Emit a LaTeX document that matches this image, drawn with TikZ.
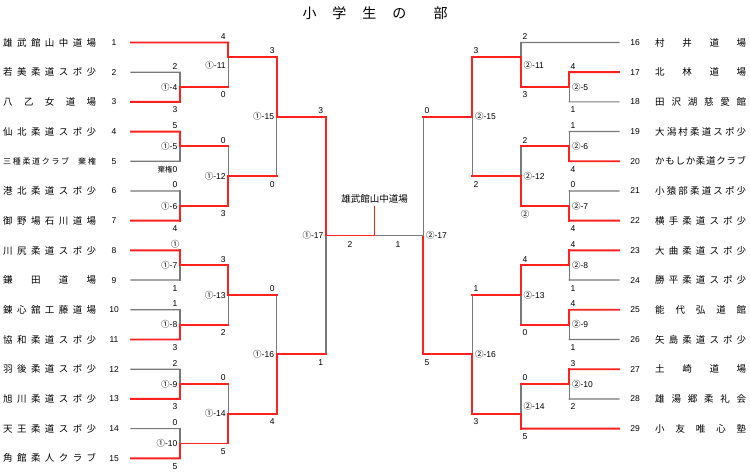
\documentclass[tikz,border=0pt]{standalone}
\usepackage{fontspec}
\setmainfont{Liberation Sans}
\newfontfamily\cjk{Noto Sans CJK JP}
\definecolor{wred}{RGB}{255,32,32}
\definecolor{lgray}{RGB}{120,120,120}
\makeatletter
\newcommand\spr[2]{\makebox[#1][s]{\expandafter\spr@a#2\relax}}
\def\spr@a#1#2{#1\ifx\relax#2\else\hfill\expandafter\spr@a\expandafter#2\fi}
\makeatother
\newcommand\maruI{{\cjk ①}}
\newcommand\maruII{{\cjk ②}}
\newcommand\match[6]{%
 \coordinate (#1t) at (#2,#3);
 \coordinate (#1b) at (#2,#4);
 \coordinate (#1o) at (#2,#5);
 \if#6t\draw[lose] (#1b)--(#1o);\draw[win] (#1t)--(#1o);%
 \else\draw[lose] (#1t)--(#1o);\draw[win] (#1b)--(#1o);\fi}
\tikzset{
 win/.style={draw=wred, line width=1.9bp, line cap=rect},
 lose/.style={draw=lgray, line width=1.2bp, line cap=rect},
 nm/.style={anchor=west, inner sep=0pt, font=\cjk\fontsize{9.5bp}{10bp}\selectfont},
 num/.style={inner sep=0pt, font=\fontsize{8.5bp}{10bp}\selectfont},
 sc/.style={inner sep=0pt, font=\fontsize{8.5bp}{10bp}\selectfont},
 mlL/.style={anchor=east, inner sep=0pt, font=\fontsize{8.5bp}{10bp}\selectfont},
 mlR/.style={anchor=west, inner sep=0pt, font=\fontsize{8.5bp}{10bp}\selectfont},
}
\begin{document}
\begin{tikzpicture}[x=1bp,y=-1bp]
\useasboundingbox (0,0) rectangle (750,474);
\node[inner sep=0pt, font=\cjk\fontsize{14bp}{15bp}\selectfont] (title) at (375,13.5)
 {小\hspace{16bp}学\hspace{16bp}生\hspace{16bp}の\hspace{27bp}部};

% entry coordinates
\foreach \n in {1,...,15} \coordinate (e\n) at (131,{42.5+(\n-1)*29.7});
\foreach \n in {16,...,29} \coordinate (e\n) at (619,{42.5+(\n-16)*29.7});

% left names
\foreach \n/\t in {1/雄武館山中道場,2/若美柔道スポ少,3/八乙女道場,4/仙北柔道スポ少,
 6/港北柔道スポ少,7/御野場石川道場,8/川尻柔道スポ少,9/鎌田道場,10/錬心舘工藤道場,
 11/協和柔道スポ少,12/羽後柔道スポ少,13/旭川柔道スポ少,14/天王柔道スポ少,15/角館柔人クラブ}
 \node[nm] (n\n) at (3,{42.5+(\n-1)*29.7}) {\spr{93bp}{\t}};
\node[nm, font=\cjk\fontsize{8bp}{9bp}\selectfont] (n5) at (3,161.3)
 {\makebox[93bp][s]{\spr{66bp}{三種柔道クラブ}\hfill\spr{18bp}{棄権}}};
% right names
\foreach \n/\t in {16/村井道場,17/北林道場,18/田沢湖慈愛館,19/大潟村柔道スポ少,
 20/かもしか柔道クラブ,21/小猿部柔道スポ少,22/横手柔道スポ少,23/大曲柔道スポ少,
 24/勝平柔道スポ少,25/能代弘道館,26/矢島柔道スポ少,27/土崎道場,28/雄湯郷柔礼会,29/小友唯心塾}
 \node[nm] (n\n) at (655,{42.5+(\n-16)*29.7}) {\spr{91bp}{\t}};
% numbers
\foreach \n in {1,...,15} \node[num] (k\n) at (114,{42.5+(\n-1)*29.7}) {\n};
\foreach \n in {16,...,29} \node[num] (k\n) at (635,{42.5+(\n-16)*29.7}) {\n};

% left matches
\match{A4}{180}{72.2}{101.9}{87.05}{b}
\match{A5}{180}{131.6}{161.3}{146.45}{t}
\match{A6}{180}{191.0}{220.7}{205.85}{b}
\match{A7}{180}{250.4}{280.1}{265.25}{t}
\match{A8}{180}{309.8}{339.5}{324.65}{b}
\match{A9}{180}{369.2}{398.9}{384.05}{b}
\match{A10}{180}{428.6}{458.3}{443.45}{b}
\match{A11}{228.3}{42.5}{87.05}{57}{t}
\match{A12}{228.3}{146.45}{205.85}{176.15}{b}
\match{A13}{228.3}{265.25}{324.65}{294.95}{t}
\match{A14}{228.3}{384.05}{443.45}{413.75}{b}
\match{A15}{276.7}{57}{176.15}{116.6}{t}
\match{A16}{276.7}{294.95}{413.75}{354.35}{b}
\match{A17}{326}{116.6}{354.35}{235.5}{t}
% right matches
\match{B5}{569.3}{72.2}{101.9}{87.05}{t}
\match{B6}{569.3}{131.6}{161.3}{146.45}{b}
\match{B7}{569.3}{191.0}{220.7}{205.85}{b}
\match{B8}{569.3}{250.4}{280.1}{265.25}{t}
\match{B9}{569.3}{309.8}{339.5}{324.65}{t}
\match{B10}{569.3}{369.2}{398.9}{384.05}{t}
\match{B11}{521}{42.5}{87.05}{57}{b}
\match{B12}{521}{146.45}{205.85}{176.15}{b}
\match{B13}{521}{265.25}{324.65}{294.95}{t}
\match{B14}{521}{384.05}{428.6}{413.75}{b}
\match{B15}{472.3}{57}{176.15}{116.6}{t}
\match{B16}{472.3}{294.95}{413.75}{354.35}{b}
\match{B17}{423.3}{116.6}{354.35}{235.5}{b}

% losing entry lines
\draw[lose] (e2)--(A4t) (e5)--(A5b) (e6)--(A6t) (e9)--(A7b) (e10)--(A8t) (e12)--(A9t) (e14)--(A10t);
\draw[lose] (e16)--(B11t) (e18)--(B5b) (e19)--(B6t) (e21)--(B7t) (e24)--(B8b) (e26)--(B9b) (e28)--(B10b);
% winning lines
\draw[win] (e1)--(A11t) (e3)--(A4b) (e4)--(A5t) (e7)--(A6b) (e8)--(A7t) (e11)--(A8b) (e13)--(A9b) (e15)--(A10b);
\draw[win] (A4o)--(A11b) (A5o)--(A12t) (A6o)--(A12b) (A7o)--(A13t) (A8o)--(A13b) (A9o)--(A14t) (A10o)--(A14b);
\draw[win] (A11o)--(A15t) (A12o)--(A15b) (A13o)--(A16t) (A14o)--(A16b);
\draw[win] (A15o)--(A17t) (A16o)--(A17b);
\draw[win] (e17)--(B5t) (e20)--(B6b) (e22)--(B7b) (e23)--(B8t) (e25)--(B9t) (e27)--(B10t) (e29)--(B14b);
\draw[win] (B5o)--(B11b) (B6o)--(B12t) (B7o)--(B12b) (B8o)--(B13t) (B9o)--(B13b) (B10o)--(B14t);
\draw[win] (B11o)--(B15t) (B12o)--(B15b) (B13o)--(B16t) (B14o)--(B16b);
\draw[win] (B15o)--(B17t) (B16o)--(B17b);
% final
\coordinate (ctr) at (374.5,235.5);
\coordinate (stem) at (374.5,207);
\draw[lose] (ctr)--(B17o);
\draw[win] (A17o)--(ctr)--(stem);
\node[inner sep=0pt, font=\cjk\fontsize{9.5bp}{10bp}\selectfont] (champ) at (374.5,199) {雄武館山中道場};
\node[sc] (fL) at (350,245) {2};
\node[sc] (fR) at (398,245) {1};

% match labels left
\node[mlL] (mA4) at (177.5,87.05) {\maruI-4};
\node[mlL] (mA5) at (177.5,146.45) {\maruI-5};
\node[mlL] (mA6) at (177.5,205.85) {\maruI-6};
\node[mlL] (mA7) at (177.5,265.25) {\maruI-7};
\node[mlL] (mA8) at (177.5,324.65) {\maruI-8};
\node[mlL] (mA9) at (177.5,384.05) {\maruI-9};
\node[mlL] (mA10) at (177.5,443.45) {\maruI-10};
\node[mlL] (mA11) at (225.8,64.8) {\maruI-11};
\node[mlL] (mA12) at (225.8,176.15) {\maruI-12};
\node[mlL] (mA13) at (225.8,294.95) {\maruI-13};
\node[mlL] (mA14) at (225.8,413.75) {\maruI-14};
\node[mlL] (mA15) at (274.2,116.6) {\maruI-15};
\node[mlL] (mA16) at (274.2,354.35) {\maruI-16};
\node[mlL] (mA17) at (323.5,235.5) {\maruI-17};
% match labels right
\node[mlR] (mB5) at (571.8,87.05) {\maruII-5};
\node[mlR] (mB6) at (571.8,146.45) {\maruII-6};
\node[mlR] (mB7) at (571.8,205.85) {\maruII-7};
\node[mlR] (mB8) at (571.8,265.25) {\maruII-8};
\node[mlR] (mB9) at (571.8,324.65) {\maruII-9};
\node[mlR] (mB10) at (571.8,384.05) {\maruII-10};
\node[mlR] (mB11) at (523.5,64.8) {\maruII-11};
\node[mlR] (mB12) at (523.5,176.15) {\maruII-12};
\node[mlR] (mB13) at (523.5,294.95) {\maruII-13};
\node[mlR] (mB14) at (523.5,406.3) {\maruII-14};
\node[mlR] (mB15) at (474.8,116.6) {\maruII-15};
\node[mlR] (mB16) at (474.8,354.35) {\maruII-16};
\node[mlR] (mB17) at (425.8,235.5) {\maruII-17};

% scores left
\node[sc] (sA4t) at (175,66.2) {2};   \node[sc] (sA4b) at (175,109.9) {3};
\node[sc] (sA5t) at (175,125.6) {5};
\node[sc, anchor=east] (sA5b) at (177.5,169.3) {{\cjk\fontsize{7.5bp}{8bp}\selectfont 棄権}0};
\node[sc] (sA6t) at (175,185) {0};    \node[sc] (sA6b) at (175,228.7) {4};
\node[sc] (sA7t) at (175,244.4) {\maruI}; \node[sc] (sA7b) at (175,288.1) {1};
\node[sc] (sA8t) at (175,303.8) {1};  \node[sc] (sA8b) at (175,347.5) {3};
\node[sc] (sA9t) at (175,363.2) {2};  \node[sc] (sA9b) at (175,406.9) {3};
\node[sc] (sA10t) at (175,422.6) {0}; \node[sc] (sA10b) at (175,466.3) {5};
\node[sc] (sA11t) at (223.3,36.5) {4};  \node[sc] (sA11b) at (223.3,95) {0};
\node[sc] (sA12t) at (223.3,140.5) {0}; \node[sc] (sA12b) at (223.3,213.9) {3};
\node[sc] (sA13t) at (223.3,259.3) {3}; \node[sc] (sA13b) at (223.3,332.7) {2};
\node[sc] (sA14t) at (223.3,378) {0};   \node[sc] (sA14b) at (223.3,451.5) {5};
\node[sc] (sA15t) at (272.3,51) {3};    \node[sc] (sA15b) at (272.3,184.2) {0};
\node[sc] (sA16t) at (272.3,289) {0};   \node[sc] (sA16b) at (272.3,421.8) {4};
\node[sc] (sA17t) at (320.7,110.6) {3}; \node[sc] (sA17b) at (320.7,362.4) {1};
% scores right
\node[sc] (sB5t) at (573,66.2) {4};   \node[sc] (sB5b) at (573,109.9) {1};
\node[sc] (sB6t) at (573,125.6) {1};  \node[sc] (sB6b) at (573,169.3) {4};
\node[sc] (sB7t) at (573,185) {0};    \node[sc] (sB7b) at (573,228.7) {4};
\node[sc] (sB8t) at (573,244.4) {4};  \node[sc] (sB8b) at (573,288.1) {1};
\node[sc] (sB9t) at (573,303.8) {4};  \node[sc] (sB9b) at (573,347.5) {1};
\node[sc] (sB10t) at (573,363.2) {3}; \node[sc] (sB10b) at (573,406.9) {2};
\node[sc] (sB11t) at (525,36.5) {2};  \node[sc] (sB11b) at (525,95) {3};
\node[sc] (sB12t) at (525,140.5) {2}; \node[sc] (sB12b) at (525,213.9) {\maruII};
\node[sc] (sB13t) at (525,259.3) {4}; \node[sc] (sB13b) at (525,332.7) {0};
\node[sc] (sB14t) at (525,378) {0};   \node[sc] (sB14b) at (525,436.6) {5};
\node[sc] (sB15t) at (476,51) {3};    \node[sc] (sB15b) at (476,184.2) {2};
\node[sc] (sB16t) at (476,289) {1};   \node[sc] (sB16b) at (476,421.8) {3};
\node[sc] (sB17t) at (427,110.6) {0}; \node[sc] (sB17b) at (427,362.4) {5};
\end{tikzpicture}
\end{document}
